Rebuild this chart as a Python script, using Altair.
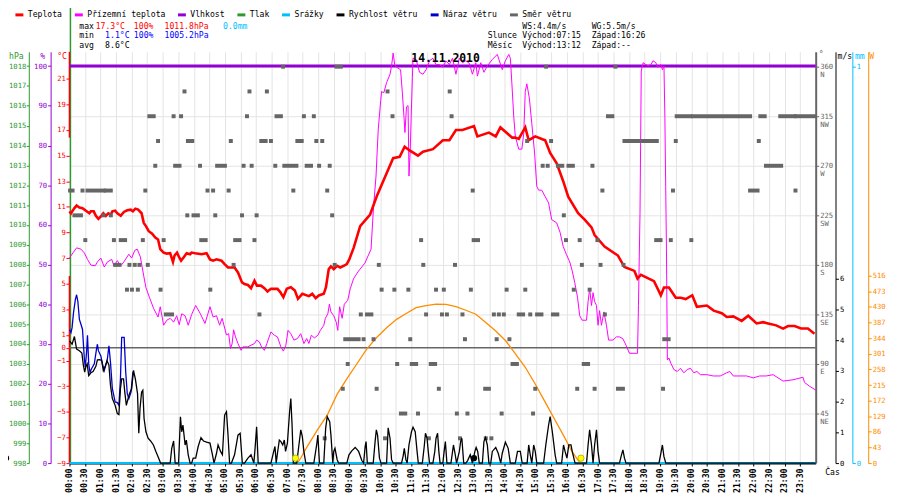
import altair as alt
import pandas as pd

# ------------------------------------------------------------------ data
temp_h = [0.0, 0.05, 0.16, 0.23, 0.32, 0.42, 0.53, 0.64, 0.69, 0.78, 0.85, 0.93, 1.01, 1.09, 1.17, 1.25, 1.33, 1.38,
          1.47, 1.54, 1.65, 1.75, 1.86, 1.97, 2.04, 2.12, 2.21, 2.32, 2.39, 2.46, 2.55, 2.66, 2.76, 2.85, 2.92, 3.03,
          3.13, 3.24, 3.33, 3.38, 3.46, 3.53, 3.59, 3.67, 3.77, 3.88, 3.93, 4.04, 4.25, 4.41, 4.52, 4.62, 4.73, 4.89,
          4.99, 5.10, 5.31, 5.42, 5.55, 5.63, 5.74, 5.84, 5.95, 6.03, 6.16, 6.27, 6.37, 6.48, 6.69, 6.78, 6.88, 6.99,
          7.12, 7.25, 7.35, 7.49, 7.70, 7.81, 7.92, 8.02, 8.18, 8.25, 8.34, 8.41, 8.50, 8.61, 8.71, 8.82, 8.92, 9.0,
          9.14, 9.35, 9.67, 9.88, 10.09, 10.41, 10.62, 10.78, 10.94, 11.21, 11.37, 11.69, 12.01, 12.22, 12.43, 12.64,
          13.01, 13.12, 13.49, 13.71, 13.86, 14.24, 14.34, 14.45, 14.66, 14.77, 14.98, 15.19, 15.30, 15.46, 15.67,
          15.88, 16.04, 16.36, 16.57, 16.79, 16.89, 17.21, 17.64, 17.85, 18.17, 18.27, 18.38, 18.80, 19.02, 19.12,
          19.28, 19.50, 19.66, 19.82, 20.03, 20.18, 20.50, 20.72, 20.98, 21.14, 21.35, 21.62, 21.83, 22.10, 22.31,
          22.47, 22.73, 22.95, 23.11, 23.32, 23.53, 23.75, 23.96]
temp_c = [10.65, 10.5, 10.9, 11.1, 10.95, 10.9, 10.7, 10.5, 10.65, 10.65, 10.3, 10.06, 10.25, 10.5, 10.3, 10.5, 10.4,
          10.65, 10.7, 10.5, 10.3, 10.6, 10.73, 10.78, 10.65, 10.86, 10.78, 10.5, 9.75, 9.5, 9.1, 8.9, 8.6, 8.45, 7.7,
          7.43, 7.35, 7.38, 6.7, 7.2, 7.43, 7.05, 6.8, 7.05, 7.38, 7.3, 7.43, 7.38, 7.3, 7.38, 6.9, 6.8, 6.9, 6.8,
          6.53, 6.27, 6.27, 5.88, 5.1, 4.98, 4.9, 4.65, 5.24, 4.85, 4.85, 4.65, 4.39, 4.6, 4.6, 4.35, 3.95, 4.6,
          4.73, 4.47, 3.82, 4.21, 4.03, 4.21, 3.87, 4.08, 4.21, 4.73, 6.14, 6.35, 6.14, 6.4, 6.27, 6.4, 6.53, 6.9,
          7.8, 9.5, 10.4, 11.8, 13.0, 14.8, 14.9, 15.7, 15.4, 15.0, 15.3, 15.5, 16.2, 16.2, 17.0, 17.0,
          17.3, 16.5, 16.8, 16.5, 17.2, 16.4, 16.4, 16.3, 17.2, 16.2, 16.5, 16.3, 16.2, 15.2, 14.4,
          13.0, 11.8, 10.5, 10.0, 9.4, 8.8, 7.9, 7.2, 6.3, 6.0, 5.4, 5.7, 5.2, 4.1, 4.7,
          4.7, 3.9, 3.9, 3.8, 4.1, 3.2, 3.3, 2.9, 2.7, 2.4, 2.45, 2.1, 2.5, 1.9, 2.0,
          1.9, 1.75, 1.5, 1.7, 1.7, 1.5, 1.5, 1.1]

ground_h = [0.0, 0.11, 0.23, 0.37, 0.48, 0.58, 0.69, 0.83, 0.90, 1.01, 1.12, 1.22, 1.36, 1.43, 1.54, 1.65, 1.75, 1.91,
            2.0, 2.10, 2.18, 2.28, 2.39, 2.46, 2.57, 2.71, 2.85, 2.92, 3.03, 3.13, 3.24, 3.35, 3.45, 3.53, 3.61, 3.72,
            3.82, 3.93, 4.06, 4.20, 4.36, 4.52, 4.62, 4.73, 4.83, 4.91, 5.05, 5.12, 5.18, 5.23, 5.28, 5.34, 5.42, 5.52,
            5.58, 5.74, 5.84, 5.95, 6.02, 6.11, 6.18, 6.27, 6.35, 6.48, 6.59, 6.69, 6.80, 6.88, 6.96, 7.03, 7.12, 7.22,
            7.33, 7.44, 7.54, 7.63, 7.70, 7.78, 7.88, 7.99, 8.07, 8.18, 8.23, 8.31, 8.36, 8.41, 8.50, 8.58, 8.63, 8.69,
            8.77, 8.84, 8.95, 9.03, 9.14, 9.30, 9.50, 9.70, 9.78, 9.86, 9.93, 10.01, 10.04, 10.11, 10.20, 10.31, 10.36,
            10.41, 10.46, 10.52, 10.65, 10.71, 10.76, 10.79, 10.84, 10.89, 10.92, 10.96, 10.99, 11.03, 11.05, 11.15,
            11.26, 11.37, 11.47, 11.58, 11.69, 11.79, 11.90, 12.01, 12.11, 12.22, 12.32, 12.43, 12.54, 12.64, 12.75,
            12.86, 12.96, 13.07, 13.12, 13.23, 13.33, 13.44, 13.60, 13.76, 13.92, 14.02, 14.13, 14.18, 14.23, 14.29,
            14.34, 14.45, 14.55, 14.61, 14.66, 14.71, 14.79, 14.87, 14.96, 15.03, 15.09, 15.19, 15.30, 15.41, 15.51,
            15.67, 15.78, 15.88, 15.98, 16.09, 16.17, 16.25, 16.34, 16.41, 16.49, 16.63, 16.68, 16.73, 16.79, 16.84,
            16.89, 16.95, 17.0, 17.05, 17.11, 17.19, 17.27, 17.34, 17.48, 17.59, 17.69, 17.80, 17.90, 18.01, 18.27,
            18.30, 18.35, 18.39, 18.45, 18.54, 18.62, 18.70, 18.77, 18.86, 18.91, 18.97, 19.02, 19.07, 19.12, 19.15,
            19.20, 19.23, 19.28, 19.34, 19.44, 19.55, 19.65, 19.76, 19.87, 19.97, 20.08, 20.18, 20.29, 20.50, 20.71,
            20.93, 21.14, 21.24, 21.35, 21.56, 21.78, 21.99, 22.20, 22.41, 22.63, 22.95, 23.27, 23.59, 23.64, 23.80,
            24.0]
ground_c = [7.0, 7.4, 7.8, 7.7, 7.4, 6.9, 6.45, 6.4, 6.7, 7.0, 6.3, 6.7, 6.9, 6.4, 6.8, 6.4, 6.7, 7.3,
            7.0, 7.6, 7.7, 7.1, 5.6, 4.7, 3.95, 3.05, 2.4, 3.2, 1.76, 2.15, 2.3, 2.0, 2.5, 1.8, 2.65, 2.5,
            1.76, 2.6, 3.3, 2.7, 1.9, 3.2, 2.4, 2.5, 1.76, 2.3, 1.0, 1.1, -0.05, 0.3, 1.4, 0.85, 0.33, -0.2,
            0.07, 0.07, 0.2, 0.33, 0.6, 0.45, 0.07, -0.2, 0.33, 1.24, 0.98, 0.85, 0.07, -0.26, 0.2, 1.36, 1.1, 0.6,
            0.72, 1.1, 0.33, 0.72, 0.33, 0.98, 0.77, 0.98, 1.36, 1.75, 2.3, 2.65, 3.4, 2.8, 2.5, 2.0, 1.36, 3.2,
            2.3, 3.4, 3.7, 4.6, 5.4, 6.0, 6.6, 7.7, 11.0, 13.4, 17.0, 19.3, 20.0, 19.9, 20.7, 21.35, 22.0,
            23.0, 22.1, 21.9, 21.7, 19.8, 18.0, 16.8, 18.8, 18.9, 13.4, 15.4, 18.0, 21.1, 22.6, 22.5,
            21.5, 21.35, 21.7, 22.4, 22.6, 22.1, 22.1, 21.9, 22.4, 22.1, 22.6, 21.35, 22.6, 22.25, 22.4,
            22.2, 21.35, 22.25, 21.2, 22.25, 21.5, 22.0, 22.5, 22.9, 21.7, 22.4, 22.9, 22.6, 20.6, 18.0,
            16.5, 15.5, 15.5, 16.7, 20.0, 20.6, 19.5, 17.5, 15.2, 12.6, 12.3, 12.3, 11.8, 11.3, 10.0,
            9.75, 9.0, 7.9, 7.3, 6.7, 6.0, 5.1, 3.95, 2.5, 2.15, 2.15, 3.6, 4.6, 3.3, 4.3,
            3.6, 3.3, 1.76, 2.9, 1.76, 2.8, 1.76, 0.6, 0.6, 0.85, 0.85, 0.7, 0.2, -0.43, -0.43,
            3.3, 10.5, 21.6, 22.25, 22.1, 22.0, 22.1, 22.4, 22.25, 21.9, 22.0, 22.1, 21.7, 22.0, 18.0,
            7.7, -0.95, -0.8, -1.2, -1.7, -1.85, -1.6, -1.95, -1.7, -1.6, -1.95, -1.85, -2.1, -2.1, -2.2,
            -2.2, -1.95, -1.85, -2.2, -2.2, -2.2, -2.35, -2.2, -2.2, -2.1, -2.6, -2.5, -2.3, -2.7, -3.0,
            -3.3]

hum_h = [0.0, 24.0]
hum_pct = [100, 100]

rain_h = [0.0, 24.0]
rain_mm = [0.0, 0.0]

# pressure trace: only its off-scale jump at midnight is visible (hPa)
press_h = [0.0]
press_lo = [998.0]
press_hi = [1021.2]
# temperature trace: off-scale jump segments at midnight (degC)
tjump_h = [0.0, 0.0]
tjump_lo = [16.4, -9.0]
tjump_hi = [23.1, 5.6]

wind_h = [0.0, 0.085, 0.16, 0.23, 0.32, 0.40, 0.45, 0.49, 0.53, 0.57, 0.62, 0.69, 0.76, 0.85, 0.90, 0.98, 1.04, 1.09,
          1.15, 1.21, 1.27, 1.32, 1.38, 1.47, 1.54, 1.59, 1.64, 1.68, 1.74, 1.78, 1.83, 1.87, 1.93, 2.0, 2.06, 2.12,
          2.19, 2.23, 2.27, 2.32, 2.36, 2.40, 2.46, 2.53, 2.61, 2.70, 2.78, 2.87, 2.93, 3.24, 3.29, 3.35, 3.40, 3.51,
          3.57, 3.61, 3.65, 3.72, 3.76, 3.82, 3.88, 3.93, 3.98, 4.06, 4.14, 4.23, 4.31, 4.41, 4.52, 4.59, 4.65, 4.73,
          4.78, 4.86, 4.92, 4.99, 5.05, 5.10, 5.15, 5.21, 5.31, 5.42, 5.49, 5.56, 5.63, 5.74, 5.84, 5.93, 5.97, 6.02,
          6.07, 6.48, 6.57, 6.61, 6.65, 6.69, 6.75, 6.80, 6.86, 6.91, 6.95, 7.01, 7.08, 7.12, 7.16, 7.20, 7.31, 7.38,
          7.44, 7.49, 7.54, 7.60, 7.86, 7.95, 7.99, 8.04, 8.18, 8.24, 8.29, 8.37, 8.41, 8.47, 8.50, 8.54, 8.61, 8.66,
          8.92, 8.99, 9.08, 9.19, 9.30, 9.40, 9.46, 9.51, 9.54, 9.58, 9.77, 9.83, 9.87, 9.91, 9.97, 10.02, 10.20,
          10.25, 10.31, 10.36, 10.41, 10.68, 10.73, 10.77, 10.82, 10.86, 10.92, 11.0, 11.05, 11.12, 11.18, 11.22,
          11.35, 11.41, 11.45, 11.50, 11.54, 11.58, 11.69, 11.75, 11.79, 11.84, 11.88, 11.92, 12.01, 12.05, 12.09,
          12.14, 12.27, 12.35, 12.40, 12.45, 12.54, 12.58, 12.62, 12.68, 12.75, 12.81, 12.89, 12.96, 13.04, 13.08,
          13.13, 13.18, 13.28, 13.33, 13.38, 13.44, 13.49, 13.55, 13.60, 13.71, 13.79, 13.87, 13.92, 14.02, 14.11,
          14.18, 14.34, 14.41, 14.50, 14.56, 14.72, 14.77, 14.82, 14.87, 14.93, 14.98, 15.03, 15.25, 15.32, 15.41,
          15.46, 15.53, 15.62, 15.67, 15.83, 15.89, 15.94, 16.0, 16.06, 16.13, 16.17, 16.26, 16.63, 16.68, 16.73,
          16.79, 16.84, 16.89, 16.95, 17.0, 17.05, 17.69, 17.74, 17.80, 17.85, 17.90, 18.96, 19.02, 19.07, 19.12,
          19.18, 24.0]
wind_ms = [3.98, 3.87, 4.12, 3.71, 3.66, 3.58, 3.17, 2.96, 3.15, 3.23, 2.85, 2.94, 2.98, 3.15, 3.36, 3.37, 3.33, 3.01,
           3.15, 3.33, 3.19, 2.53, 2.10, 1.88, 1.61, 1.58, 2.42, 2.74, 2.74, 2.31, 1.88, 2.04, 2.26, 2.42, 3.01, 2.74,
           2.26, 0.97, 1.78, 2.31, 2.37, 1.45, 1.02, 0.81, 0.72, 0.59, 0.38, 0.16, 0.0, 0.0, 0.48, 0.72, 0.0, 0.0,
           1.51, 1.02, 1.24, 0.59, 0.75, 0.27, 0.0, 0.0, 0.16, 0.16, 0.54, 0.83, 0.72, 0.68, 0.65, 0.32, 0.0, 0.32,
           0.59, 0.38, 0.27, 1.56, 1.67, 0.91, 0.0, 0.0, 0.27, 0.91, 0.97, 0.0, 0.0, 0.16, 0.27, 0.0, 0.48, 1.18,
           0.0, 0.0, 0.38, 0.54, 0.0, 0.32, 0.75, 0.70, 0.59, 0.75, 0.38, 0.65, 1.67, 2.10, 1.24, 0.0, 0.0, 0.59,
           1.08, 0.86, 0.38, 0.0, 0.0, 0.59, 0.91, 0.0, 0.0, 1.13, 1.51, 1.35, 0.91, 0.0, 0.38, 0.48, 0.11, 0.0,
           0.0, 0.27, 0.40, 0.51, 0.38, 0.09, 0.0, 0.54, 0.70, 0.0, 0.0, 0.70, 1.08, 0.91, 0.16, 0.0, 0.0,
           1.15, 0.81, 0.11, 0.0, 0.0, 0.22, 0.48, 0.11, 0.0, 0.59, 1.02, 1.17, 1.02, 0.38, 0.0,
           0.0, 0.54, 0.97, 0.81, 0.38, 0.0, 0.0, 0.38, 0.81, 0.97, 0.38, 0.0, 0.0, 0.38, 0.70,
           0.0, 0.0, 0.59, 0.32, 0.0, 0.38, 0.70, 0.81, 0.0, 0.0, 0.09, 0.27, 0.0, 0.38, 0.51,
           0.38, 0.0, 0.0, 0.70, 0.83, 0.59, 0.0, 0.0, 0.38, 0.51, 0.32, 0.0, 0.32, 0.68, 0.48,
           0.0, 0.0, 0.38, 0.38, 0.0, 0.0, 0.59, 0.27, 0.0, 0.59, 0.38, 0.0, 0.0, 0.59, 1.24,
           1.51, 1.02, 0.27, 0.0, 0.0, 0.59, 0.38, 0.16, 0.59, 0.59, 0.38, 0.0, 0.0, 0.59, 1.08,
           0.59, 0.0, 0.59, 1.08, 0.38, 0.0, 0.0, 0.21, 0.43, 0.16, 0.0, 0.0, 0.32, 0.59, 0.21,
           0.0, 0.0]

gust_h = [0.0, 0.05, 0.085, 0.13, 0.19, 0.23, 0.27, 0.32, 0.37, 0.42, 0.48, 0.51, 0.55, 0.58, 0.62, 0.66, 0.72, 0.80,
          0.87, 0.90, 0.93, 1.01, 1.06, 1.12, 1.17, 1.22, 1.27, 1.32, 1.38, 1.47, 1.54, 1.59, 1.64, 1.68, 1.76, 1.81,
          1.86, 1.91, 1.98, 2.04, 2.08]
gust_ms = [4.35, 4.25, 4.41, 4.89, 5.32, 5.48, 5.27, 4.68, 4.52, 4.35, 3.39, 3.12, 3.60, 4.16, 3.23, 2.96, 3.09, 3.23,
           3.71, 3.87, 3.66, 3.49, 3.23, 3.01, 3.19, 3.39, 3.82, 3.28, 2.42, 1.99, 1.97, 1.88, 2.74, 4.09, 4.09, 2.96,
           2.26, 2.10, 2.31, 2.96, 3.01]

sol_h = [7.33, 7.44, 7.65, 7.97, 8.29, 8.61, 8.92, 9.24, 9.56, 9.88, 10.20, 10.52, 10.83, 11.15, 11.47, 11.79, 12.11,
         12.43, 12.75, 13.07, 13.39, 13.71, 14.03, 14.35, 14.66, 14.98, 15.30, 15.62, 15.94, 16.16, 16.37, 16.45]
sol_w = [0, 14, 46, 91, 132, 190, 232, 273, 314, 346, 373, 396, 412, 428, 434, 438, 437,
         431, 421, 410, 387, 364, 337, 300, 264, 218, 168, 118, 68, 32, 6, 0]

# wind direction samples: start hour, end hour (runs of equal samples), direction in degrees
dir_rows = {
    360.0: [(6.87, 6.87), (8.59, 8.73), (15.33, 15.33), (17.56, 17.56)],
    337.5: [(3.70, 3.70), (5.79, 5.79), (6.35, 6.35), (10.23, 10.23), (12.23, 12.23)],
    315.0: [(2.57, 2.71), (3.35, 3.35), (3.59, 3.59), (5.71, 5.71), (6.66, 6.80), (7.54, 7.54), (7.86, 7.86),
            (10.39, 10.39), (12.29, 12.29), (17.32, 17.46), (19.53, 19.97), (20.05, 21.89), (22.22, 22.36),
            (22.86, 23.32), (23.37, 23.95)],
    292.5: [(2.85, 2.85), (3.81, 3.95), (5.19, 5.19), (6.17, 6.31), (6.48, 6.48), (7.33, 7.47), (7.94, 7.94),
            (8.13, 8.13), (14.72, 14.72), (15.49, 15.49), (17.85, 18.89), (19.50, 19.50), (22.17, 22.17)],
    270.0: [(2.76, 2.76), (3.40, 3.54), (4.20, 4.20), (4.75, 5.0), (5.60, 5.60), (5.86, 5.86), (6.62, 6.62),
            (6.91, 7.30), (7.63, 7.77), (8.03, 8.03), (8.37, 8.37), (15.22, 15.22), (15.38, 15.38), (15.71, 15.85),
            (16.05, 16.19), (16.82, 16.82), (22.40, 22.89)],
    247.5: [(0.02, 0.10), (0.42, 0.42), (0.58, 1.10), (1.17, 1.33), (2.44, 2.44), (4.44, 4.44), (4.62, 4.62),
            (5.12, 5.12), (7.20, 7.20), (8.29, 8.29), (12.97, 12.97), (17.14, 17.14), (19.41, 19.41),
            (21.89, 22.13), (23.35, 23.35)],
    225.0: [(0.16, 0.37), (1.09, 1.09), (1.33, 1.33), (3.79, 3.79), (3.99, 4.13), (4.69, 4.69), (5.55, 5.55),
            (6.02, 6.02), (8.45, 8.45), (15.90, 15.90)],
    202.5: [(0.51, 0.51), (1.43, 1.43), (1.65, 1.79), (2.36, 2.36), (3.03, 3.03), (4.24, 4.38), (5.33, 5.47),
            (5.95, 5.95), (11.31, 11.31), (13.0, 13.14), (15.97, 15.97), (16.41, 16.41), (16.98, 16.98),
            (18.87, 19.01), (19.34, 19.34), (20.0, 20.0)],
    180.0: [(1.47, 1.61), (1.93, 1.93), (2.10, 2.10), (2.25, 2.25), (2.52, 2.52), (5.28, 5.28), (8.53, 8.53),
            (9.95, 9.95), (11.38, 11.38), (12.40, 12.40), (16.48, 16.48), (17.08, 17.08), (17.82, 17.82)],
    157.5: [(1.85, 1.85), (2.01, 2.01), (2.20, 2.20), (2.93, 2.93), (4.53, 4.53), (10.04, 10.04), (10.45, 10.45),
            (10.90, 10.90), (11.79, 11.79), (12.04, 12.04), (12.91, 12.91), (14.06, 14.06), (14.66, 14.66),
            (16.22, 16.22), (16.73, 16.73)],
    135.0: [(3.10, 3.30), (6.11, 6.11), (9.37, 9.37), (9.57, 9.71), (11.47, 11.47), (11.98, 11.98), (12.14, 12.14),
            (12.64, 12.64), (13.65, 13.65), (13.81, 13.81), (13.97, 13.97), (14.45, 14.59), (14.82, 14.82),
            (15.04, 15.18), (15.55, 15.69), (17.22, 17.22)],
    112.5: [(8.87, 9.30), (9.46, 9.46), (9.78, 9.78), (10.96, 10.96), (12.72, 12.72), (13.74, 13.74),
            (14.15, 14.15), (19.13, 19.27)],
    90.0: [(8.95, 8.95), (10.54, 10.54), (11.01, 11.15), (11.62, 11.76), (14.25, 14.39), (16.54, 16.68)],
    67.5: [(8.79, 8.79), (9.88, 9.88), (11.88, 11.88), (13.37, 13.37), (13.49, 13.49), (14.98, 14.98),
           (16.33, 16.33), (16.89, 16.89), (17.64, 17.80), (19.09, 19.09)],
    45.0: [(10.66, 10.80), (11.21, 11.21), (12.46, 12.46), (12.80, 12.80), (13.90, 13.90), (14.91, 14.91)],
    22.5: [(8.21, 8.21), (10.15, 10.15), (11.56, 11.56), (12.56, 12.56), (13.39, 13.39), (13.57, 13.57)],
}
dir_start, dir_end, dir_deg = [], [], []
for deg, runs in dir_rows.items():
    for s, e in runs:
        dir_start.append(s)
        dir_end.append(e)
        dir_deg.append(deg)

sun_h = [7.27, 16.45]     # sunrise 07:15, sunset 16:26 markers
moon_h = [13.01, -2.04]   # moonrise 13:12 marker, moonset "--" marker

compass = {45: "NE", 90: "E", 135: "SE", 180: "S", 225: "SW", 270: "W", 315: "NW", 360: "N"}

legend_names = ["Teplota", "Přízemní teplota", "Vlhkost", "Tlak", "Srážky", "Rychlost větru",
                "Náraz větru", "Směr větru"]

# header texts: (text, colour, column, row)
header = [
    ("max", "black", 10, 0), ("17.3°C", "#ff0000", 26.5, 0), ("100%", "#ff0000", 65, 0),
    ("1011.8hPa", "#ff0000", 96, 0), ("0.0mm", "#00bfff", 155, 0),
    ("min", "black", 10, 1), ("1.1°C", "#0000ff", 36, 1), ("100%", "#0000ff", 65, 1),
    ("1005.2hPa", "#0000ff", 96, 1),
    ("avg", "black", 10, 2), ("8.6°C", "black", 36, 2),
    ("WS:4.4m/s", "black", 457, 0), ("WG:5.5m/s", "black", 527, 0),
    ("Slunce", "black", 422, 1), ("Východ:07:15", "black", 457, 1), ("Západ:16:26", "black", 527, 1),
    ("Měsíc", "black", 422, 2), ("Východ:13:12", "black", 457, 2), ("Západ:--", "black", 527, 2),
]
header_rows_y = [-25.5, -16, -6]

# ------------------------------------------------------------------ style
FONT = "DejaVu Sans Mono"
FS = 8.2
FS_SMALL = 7.3
RED, MAG, PURP, GREEN = "#ff0000", "#ff00ff", "#9400d3", "#2e9a2e"
CYAN, BLACK, BLUE, GRAY, ORANGE = "#00bfff", "#000000", "#0000cc", "#666666", "#ff8c00"
legend_colors = [RED, MAG, PURP, GREEN, CYAN, BLACK, BLUE, GRAY]
GRID = "#e4e4e4"
W, H = 753, 415

T_DOM = [-9, 23.1]
HUM_DOM = [0, 103.6]
P_DOM = [998, 1018.72]
DIR_DOM = [0, 373.5]
WS_DOM = [0, 13.39]
MM_DOM = [0, 1.0375]
SOL_DOM = [0, 1133]


def sc(dom):
    return alt.Scale(domain=dom, nice=False, zero=False)


def axis(orient, offset, color, values, title, tx, ty, **kw):
    base = dict(orient=orient, offset=offset, values=values, grid=False, domainColor=color,
                tickColor=color, labelColor=color, tickSize=3, labelPadding=1, labelOverlap=False,
                labelFlush=False, title=title, titleAngle=0, titleX=tx, titleY=ty, titleAlign="center",
                titleBaseline="middle", titleColor=color, titleFontWeight="normal", format="d",
                labelFontSize=FS_SMALL)
    base.update(kw)
    return alt.Axis(**base)


xaxis = alt.Axis(values=[i / 2 for i in range(48)],
                 labelExpr="(datum.value < 10 ? '0' : '') + floor(datum.value) + ':' + (datum.value % 1 > 0 ? '30' : '00')",
                 labelAngle=270, labelFontWeight="bold", labelColor=BLACK, tickColor=BLACK, tickSize=3,
                 domainColor=BLACK, domainWidth=2, grid=True, gridColor=GRID, gridWidth=1, title=None,
                 labelPadding=2, labelOverlap=False, labelFlush=False, labelFontSize=FS)
X = alt.X("h:Q", scale=sc([0, 24]), axis=xaxis)

T_TICKS = [-9, -7, -5, -3, -1, 0, 1, 3, 5, 7, 9, 11, 13, 15, 17, 19, 21]
dir_label = " : ".join(f"datum.value == {k} ? ['{k}','{v}']" for k, v in sorted(compass.items(), reverse=True)) + " : ''"

layers = []

# pressure trace (vertical jump at midnight) + hPa axis
layers.append(alt.Chart(pd.DataFrame({"h": press_h, "p": press_lo, "p2": press_hi}))
              .mark_rule(color=GREEN, strokeWidth=1.5, xOffset=1)
              .encode(x=X, y=alt.Y("p:Q", scale=sc(P_DOM),
                                   axis=axis("left", 41, GREEN, list(range(998, 1019)), "hPa", -13, 4.5,
                                             tickSize=2.5, labelPadding=0.5)),
                      y2="p2:Q"))
# temperature jump segments at midnight
layers.append(alt.Chart(pd.DataFrame({"h": tjump_h, "t": tjump_lo, "t2": tjump_hi}))
              .mark_rule(color=RED, strokeWidth=1.5)
              .encode(x=X, y=alt.Y("t:Q", scale=sc(T_DOM), axis=None), y2="t2:Q"))
# 0 degC line
layers.append(alt.Chart(pd.DataFrame({"v": [0]})).mark_rule(color=GRAY, strokeWidth=1.5)
              .encode(y=alt.Y("v:Q", scale=sc(T_DOM), axis=None)))
# humidity
layers.append(alt.Chart(pd.DataFrame({"h": hum_h, "v": hum_pct})).mark_line(color=PURP, strokeWidth=3)
              .encode(x=X, y=alt.Y("v:Q", scale=sc(HUM_DOM),
                                   axis=axis("left", 19, PURP, list(range(0, 101, 10)), "%", -8.5, 4.5))))
# ground temperature
layers.append(alt.Chart(pd.DataFrame({"h": ground_h, "v": ground_c})).mark_line(color=MAG, strokeWidth=1)
              .encode(x=X, y=alt.Y("v:Q", scale=sc(T_DOM), axis=None)))
# air temperature
layers.append(alt.Chart(pd.DataFrame({"h": temp_h, "v": temp_c})).mark_line(color=RED, strokeWidth=2.6)
              .encode(x=X, y=alt.Y("v:Q", scale=sc(T_DOM),
                                   axis=axis("left", 0, RED, T_TICKS, "°C", -8, 4.5, domain=False,
                                             tickSize=3.5, labelPadding=0.5))))
# precipitation
layers.append(alt.Chart(pd.DataFrame({"h": rain_h, "v": rain_mm})).mark_line(color=CYAN, strokeWidth=2)
              .encode(x=X, y=alt.Y("v:Q", scale=sc(MM_DOM),
                                   axis=axis("right", 37, CYAN, [0, 1], "mm", 7, 4.5))))
# solar radiation
layers.append(alt.Chart(pd.DataFrame({"h": sol_h, "v": sol_w})).mark_line(color=ORANGE, strokeWidth=1.3)
              .encode(x=X, y=alt.Y("v:Q", scale=sc(SOL_DOM),
                                   axis=axis("right", 53, ORANGE, list(range(0, 517, 43)), "W", 3, 4.5))))
# wind direction
layers.append(alt.Chart(pd.DataFrame({"h": dir_start, "h2": dir_end, "d": dir_deg}))
              .mark_rule(color=GRAY, strokeWidth=4, strokeCap="square")
              .encode(x=X, x2="h2:Q",
                      y=alt.Y("d:Q", scale=sc(DIR_DOM),
                              axis=axis("right", 0, GRAY, list(range(45, 361, 45)), "°", 5, 3,
                                        grid=True, gridColor=GRID, gridWidth=1, domainWidth=2,
                                        labelExpr=dir_label, labelLineHeight=8, format=""))))
# gusts
layers.append(alt.Chart(pd.DataFrame({"h": gust_h, "v": gust_ms})).mark_line(color=BLUE, strokeWidth=1.3)
              .encode(x=X, y=alt.Y("v:Q", scale=sc(WS_DOM), axis=None)))
# wind speed
layers.append(alt.Chart(pd.DataFrame({"h": wind_h, "v": wind_ms})).mark_line(color=BLACK, strokeWidth=1.3)
              .encode(x=X, y=alt.Y("v:Q", scale=sc(WS_DOM),
                                   axis=axis("right", 20, BLACK, list(range(0, 7)), "m/s", 9, 4.5))))
# sun / moon markers
layers.append(alt.Chart(pd.DataFrame({"h": sun_h, "v": [0] * len(sun_h)}))
              .mark_circle(size=40, color="#ffff00", stroke="#a8a800", strokeWidth=0.8, opacity=1, yOffset=-5)
              .encode(x=X, y=alt.Y("v:Q", scale=sc(SOL_DOM), axis=None)))
layers.append(alt.Chart(pd.DataFrame({"h": moon_h, "v": [0] * len(moon_h)}))
              .mark_circle(size=40, color=BLACK, opacity=1, yOffset=-5)
              .encode(x=X, y=alt.Y("v:Q", scale=sc(SOL_DOM), axis=None)))

one = pd.DataFrame({"k": [0]})
# header texts
for txt, col, cx, row in header:
    layers.append(alt.Chart(one).mark_text(font=FONT, fontSize=FS, align="left", baseline="middle")
                  .encode(x=alt.value(cx), y=alt.value(header_rows_y[row]), text=alt.value(txt),
                          color=alt.value(col)))
# date title
layers.append(alt.Chart(one).mark_text(font=FONT, fontSize=11.5, fontWeight="bold", align="center",
                                       baseline="middle")
              .encode(x=alt.value(W / 2 + 3), y=alt.value(7), text=alt.value("14.11.2010"), color=alt.value(BLACK)))
# x axis caption
layers.append(alt.Chart(one).mark_text(font=FONT, fontSize=FS, align="center", baseline="middle")
              .encode(x=alt.value(W + 17), y=alt.value(H + 10), text=alt.value("Čas"), color=alt.value(BLACK)))
# legend
layers.append(alt.Chart(pd.DataFrame({"s": legend_names})).mark_point(opacity=0, size=1)
              .encode(color=alt.Color("s:N", scale=alt.Scale(domain=legend_names, range=legend_colors),
                                      legend=alt.Legend(orient="none", legendX=-56, legendY=-43,
                                                        direction="horizontal", title=None, symbolType="stroke",
                                                        symbolSize=64, symbolStrokeWidth=3, symbolOpacity=1,
                                                        labelFont=FONT, labelFontSize=FS, labelColor=BLACK,
                                                        labelOffset=3, columnPadding=6, padding=0,
                                                        rowPadding=0))))

chart = (alt.layer(*layers)
         .resolve_scale(y="independent")
         .properties(width=W, height=H, autosize=alt.AutoSizeParams(type="none"),
                     padding={"left": 62, "top": 42, "right": 77, "bottom": 31}, background="white")
         .configure_view(stroke=None)
         .configure_axis(labelFont=FONT, titleFont=FONT, labelFontSize=FS, titleFontSize=FS))

chart.save("out.html", embed_options={"renderer": "svg", "actions": False})
